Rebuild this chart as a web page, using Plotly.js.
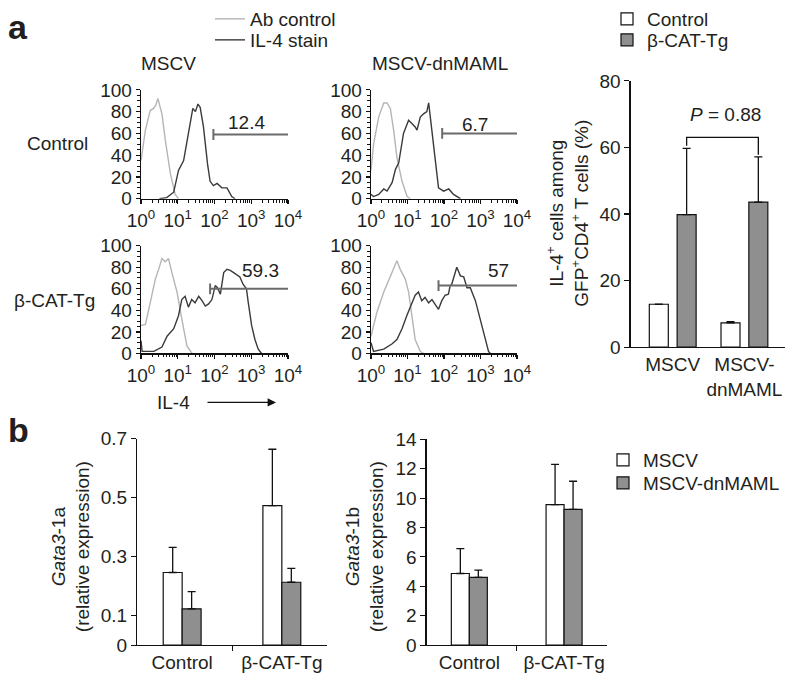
<!DOCTYPE html>
<html><head><meta charset="utf-8">
<script src="https://cdn.plot.ly/plotly-3.0.1.min.js"></script>
<style>html,body{margin:0;padding:0;background:#fff}#chart{width:800px;height:685px}</style>
</head><body><div id="chart"></div>
<script>
// ---------- DATA ----------
// Histograms: x = log10(IL-4 intensity), y = % of max
const h1GrayX = [0,0.05,0.12,0.25,0.34,0.4,0.46,0.57,0.66,0.8,0.93,1.02];
const h1GrayY = [35,48,63,81,83,86,92,78,54,23,4,0];
const h1BlackX = [0.5,0.7,0.89,1.02,1.16,1.3,1.41,1.48,1.55,1.61,1.7,1.81,1.88,1.97,2.07,2.2,2.34,2.47,2.56];
const h1BlackY = [0,1,6,26,35,60,83,80,87,84,66,32,16,12,14,10,10,2,0];
const h2GrayX = [0,0.07,0.21,0.35,0.44,0.53,0.62,0.71,0.85,0.99,1.08];
const h2GrayY = [26,50,75,88,88,83,63,38,16,2,0];
const h2BlackX = [0,0.07,0.21,0.35,0.44,0.58,0.67,0.76,0.89,1.03,1.12,1.21,1.26,1.35,1.44,1.53,1.58,1.67,1.76,1.85,1.99,2.13,2.26,2.45];
const h2BlackY = [4,2,4,9,7,15,27,33,60,72,69,66,63,75,78,80,88,63,35,10,7,9,4,0];
const h3GrayX = [0,0.12,0.25,0.39,0.48,0.57,0.66,0.75,0.84,0.98,1.11,1.25,1.39];
const h3GrayY = [26,27,47,69,78,88,85,88,75,57,32,7,0];
const h3BlackX = [0,0.03,0.1,0.35,0.57,0.71,0.89,1.02,1.11,1.2,1.29,1.38,1.47,1.57,1.66,1.75,1.84,1.93,2.02,2.08,2.16,2.25,2.34,2.43,2.56,2.69,2.78,2.87,2.92,3.01,3.1,3.19,3.28];
const h3BlackY = [12,2,2,2,6,16,23,35,50,53,43,50,47,53,49,44,46,50,63,61,55,75,78,77,74,71,64,60,47,26,13,4,0];
const h4GrayX = [0,0.16,0.35,0.53,0.71,0.8,0.94,1.03,1.12,1.21,1.35,1.44];
const h4GrayY = [16,38,57,72,86,78,69,57,35,13,2,0];
const h4BlackX = [0,0.07,0.35,0.58,0.71,0.85,0.98,1.12,1.21,1.3,1.39,1.48,1.58,1.67,1.76,1.85,1.94,2.03,2.12,2.17,2.21,2.31,2.35,2.45,2.54,2.63,2.72,2.86,2.99,3.13,3.22,3.27];
const h4BlackY = [10,2,4,9,13,23,35,47,54,57,49,52,47,50,46,41,49,54,55,63,64,75,80,72,71,61,61,49,32,13,2,0];
// gates: start (log10), level (%), label, label position (log10, %)
const gateStart = [1.97,1.95,1.88,1.85];
const gateLevel = [59,60,60,63];
const gateLabels = ['12.4','6.7','59.3','57'];
const gateLabelX = [2.86,2.86,3.26,3.49];
const gateLabelY = [70,68,77,77];
const histTickVals = [1,10,100,1000,10000];
const histTickText = ['10<sup>0</sup>','10<sup>1</sup>','10<sup>2</sup>','10<sup>3</sup>','10<sup>4</sup>'];

// Top-right bars
const il4Categories = ['MSCV','MSCV-<br>dnMAML'];
const il4Control = [12.9, 7.3];
const il4ControlErr = [0, 0.4];
const il4BetaCat = [39.8, 43.6];
const il4BetaCatErr = [19.9, 13.6];
const pText = '<i>P</i> = 0.88';

// Bottom bars
const gataCategories = ['Control','β-CAT-Tg'];
const gata1aMSCV = [0.246, 0.473];
const gata1aMSCVErr = [0.085, 0.191];
const gata1aDn = [0.123, 0.213];
const gata1aDnErr = [0.058, 0.047];
const gata1bMSCV = [4.87, 9.56];
const gata1bMSCVErr = [1.70, 2.74];
const gata1bDn = [4.60, 9.24];
const gata1bDnErr = [0.50, 1.91];

// ---------- HELPERS ----------
const W = 800, H = 685;
const px = x => x / W;
const py = y => 1 - y / H;
const FONT = 'Liberation Sans, Arial, Helvetica, sans-serif';
const TXT = '#231f20';
const FS = 19;
const GRAYLINE = '#b5b5b5', DARKLINE = '#3a3a3a', GATE = '#6b6b6b', BARGRAY = '#8f8f8f';
const pow10 = a => a.map(v => Math.pow(10, v));

const traces = [];
const hists = [
  [h1GrayX,h1GrayY,h1BlackX,h1BlackY],
  [h2GrayX,h2GrayY,h2BlackX,h2BlackY],
  [h3GrayX,h3GrayY,h3BlackX,h3BlackY],
  [h4GrayX,h4GrayY,h4BlackX,h4BlackY]
];
hists.forEach((h, i) => {
  const xa = i === 0 ? 'x' : 'x' + (i + 1), ya = i === 0 ? 'y' : 'y' + (i + 1);
  traces.push({type:'scatter', mode:'lines', x: pow10(h[0]), y: h[1], xaxis: xa, yaxis: ya,
    line:{color:GRAYLINE, width:1.4}, name:'Ab control', showlegend: i === 0, legend:'legend', hoverinfo:'skip'});
  traces.push({type:'scatter', mode:'lines', x: pow10(h[2]), y: h[3], xaxis: xa, yaxis: ya,
    line:{color:DARKLINE, width:1.4}, name:'IL-4 stain', showlegend: i === 0, legend:'legend4', hoverinfo:'skip'});
  const g = Math.pow(10, gateStart[i]);
  traces.push({type:'scatter', mode:'lines', xaxis: xa, yaxis: ya, showlegend:false, hoverinfo:'skip',
    x:[g, g, null, g, 10000], y:[gateLevel[i]-5, gateLevel[i]+5, null, gateLevel[i], gateLevel[i]],
    line:{color:GATE, width:2}});
});

const errStyle = (arr) => ({type:'data', array: arr, arrayminus: arr.map(() => 0), symmetric:false,
  color:'#111', thickness:1.3, width:4});
const barLine = {color:'#111', width:1.2};

// top-right
traces.push({type:'bar', x: il4Categories, y: il4Control, xaxis:'x5', yaxis:'y5', name:'Control', legend:'legend2',
  marker:{color:'#ffffff', line:barLine}, width:0.265, offset:-0.3265, error_y: errStyle(il4ControlErr), hoverinfo:'skip'});
traces.push({type:'bar', x: il4Categories, y: il4BetaCat, xaxis:'x5', yaxis:'y5', name:'β-CAT-Tg', legend:'legend5',
  marker:{color:BARGRAY, line:barLine}, width:0.265, offset:0.0615, error_y: errStyle(il4BetaCatErr), hoverinfo:'skip'});

// bottom
traces.push({type:'bar', x: gataCategories, y: gata1aMSCV, xaxis:'x6', yaxis:'y6', name:'MSCV', legend:'legend3',
  marker:{color:'#ffffff', line:barLine}, width:0.19, offset:-0.19, error_y: errStyle(gata1aMSCVErr), hoverinfo:'skip'});
traces.push({type:'bar', x: gataCategories, y: gata1aDn, xaxis:'x6', yaxis:'y6', name:'MSCV-dnMAML', legend:'legend6',
  marker:{color:BARGRAY, line:barLine}, width:0.19, offset:0, error_y: errStyle(gata1aDnErr), hoverinfo:'skip'});
traces.push({type:'bar', x: gataCategories, y: gata1bMSCV, xaxis:'x7', yaxis:'y7', name:'MSCV', showlegend:false,
  marker:{color:'#ffffff', line:barLine}, width:0.19, offset:-0.19, error_y: errStyle(gata1bMSCVErr), hoverinfo:'skip'});
traces.push({type:'bar', x: gataCategories, y: gata1bDn, xaxis:'x7', yaxis:'y7', name:'MSCV-dnMAML', showlegend:false,
  marker:{color:BARGRAY, line:barLine}, width:0.19, offset:0, error_y: errStyle(gata1bDnErr), hoverinfo:'skip'});

// ---------- AXES ----------
const histX = (dom, anchor) => ({type:'log', domain: dom, anchor, range:[0,4], showgrid:false, zeroline:false,
  showline:true, linecolor:'#111', linewidth:1.3, ticks:'outside', ticklen:4, tickwidth:1.2, tickcolor:'#111',
  tickvals: histTickVals, ticktext: histTickText, tickfont:{size:FS, color:TXT},
  minor:{ticks:'outside', ticklen:2.5, tickcolor:'#111', tickwidth:1, dtick:'D1', showgrid:false}});
const histY = (dom, anchor) => ({domain: dom, anchor, range:[0,100], showgrid:false, zeroline:false,
  showline:true, linecolor:'#111', linewidth:1.3, ticks:'outside', ticklen:4, tickwidth:1.2, tickcolor:'#111',
  tickvals:[0,20,40,60,80,100], tickfont:{size:FS, color:TXT},
  minor:{ticks:'outside', ticklen:2.5, tickcolor:'#111', tickwidth:1, dtick:5, showgrid:false}});

const hx1 = [px(141), px(288)], hx2 = [px(371), px(517)];
const hyTop = [py(198), py(89)], hyBot = [py(353), py(245)];
const leg = (x, y) => ({x: px(x), y: py(y), xanchor:'left', yanchor:'middle', bgcolor:'rgba(0,0,0,0)',
  borderwidth:0, font:{size:FS, color:TXT}, itemwidth:30});

const layout = {
  width: W, height: H, margin:{l:0,r:0,t:0,b:0}, paper_bgcolor:'#fff', plot_bgcolor:'rgba(0,0,0,0)',
  font:{family: FONT, color: TXT, size:FS}, barmode:'overlay',
  xaxis: histX(hx1,'y'), yaxis: histY(hyTop,'x'),
  xaxis2: histX(hx2,'y2'), yaxis2: histY(hyTop,'x2'),
  xaxis3: histX(hx1,'y3'), yaxis3: histY(hyBot,'x3'),
  xaxis4: histX(hx2,'y4'), yaxis4: histY(hyBot,'x4'),
  xaxis5: {domain:[px(630.7), px(785)], anchor:'y5', type:'category', range:[-0.586,1.566], showline:true,
    linecolor:'#111', linewidth:1.3, ticks:'', showgrid:false, zeroline:false, tickfont:{size:FS, color:TXT}},
  yaxis5: {domain:[py(346.7), py(80)], anchor:'x5', range:[0,80], showline:true, linecolor:'#111', linewidth:1.3,
    ticks:'outside', ticklen:5, tickwidth:1.2, tickcolor:'#111', tickvals:[0,20,40,60,80], showgrid:false, zeroline:false,
    tickfont:{size:FS, color:TXT}},
  xaxis6: {domain:[px(137.3), px(326.7)], anchor:'y6', type:'category', range:[-0.45,1.45], showline:true,
    linecolor:'#111', linewidth:1.3, ticks:'outside', tickson:'boundaries', ticklen:5, tickcolor:'#111',
    showgrid:false, zeroline:false, tickfont:{size:FS, color:TXT}},
  yaxis6: {domain:[py(645), py(438.3)], anchor:'x6', range:[0,0.7], showline:true, linecolor:'#111', linewidth:1.3,
    ticks:'outside', ticklen:5, tickcolor:'#111', tickvals:[0,0.1,0.3,0.5,0.7], showgrid:false, zeroline:false,
    tickfont:{size:FS, color:TXT}},
  xaxis7: {domain:[px(426.7), px(606.7)], anchor:'y7', type:'category', range:[-0.45,1.45], showline:true,
    linecolor:'#111', linewidth:1.3, ticks:'outside', tickson:'boundaries', ticklen:5, tickcolor:'#111',
    showgrid:false, zeroline:false, tickfont:{size:FS, color:TXT}},
  yaxis7: {domain:[py(645), py(439)], anchor:'x7', range:[0,14], showline:true, linecolor:'#111', linewidth:1.3,
    ticks:'outside', ticklen:5, tickcolor:'#111', tickvals:[0,2,4,6,8,10,12,14], showgrid:false, zeroline:false,
    tickfont:{size:FS, color:TXT}},
  legend: leg(210, 18), legend4: leg(210, 40),
  legend2: leg(607, 18), legend5: leg(607, 40),
  legend3: leg(603, 460), legend6: leg(603, 483),
  shapes: [
    {type:'path', xref:'x5', yref:'y5', path:'M 0.194 60.5 L 0.194 63 L 1.194 63 L 1.194 57.8', line:{color:'#111', width:1.3}}
  ],
  annotations: []
};

const ann = layout.annotations;
const A = (text, x, y, opts={}) => ann.push(Object.assign({text, x: px(x), y: py(y), xref:'paper', yref:'paper',
  xanchor:'center', yanchor:'middle', showarrow:false, font:{size:FS, color:TXT}}, opts));
A('<b>a</b>', 18, 26, {font:{size:34, color:TXT}});
A('<b>b</b>', 18, 430, {font:{size:34, color:TXT}});
A('MSCV', 168, 63);
A('MSCV-dnMAML', 440, 63);
A('Control', 58, 143);
A('β-CAT-Tg', 54, 300);
A('IL-4', 173, 402);
ann.push({text:'', xref:'paper', yref:'paper', x: px(276), y: py(402), ax:-70, ay:0, axref:'pixel', ayref:'pixel',
  showarrow:true, arrowhead:2, arrowsize:1.2, arrowwidth:1.4, arrowcolor:'#111'});
A('IL-4<sup>+</sup> cells among<br>GFP<sup>+</sup>CD4<sup>+</sup> T cells (%)', 568, 213, {textangle:-90});
A('<i>Gata3</i>-1a<br>(relative expression)', 71, 547, {textangle:-90});
A('<i>Gata3</i>-1b<br>(relative expression)', 365, 547, {textangle:-90});
// gate labels
gateLabels.forEach((t, i) => {
  ann.push({text:t, xref: i === 0 ? 'x' : 'x' + (i + 1), yref: i === 0 ? 'y' : 'y' + (i + 1),
    x: gateLabelX[i], y: gateLabelY[i], xanchor:'center', yanchor:'middle', showarrow:false, font:{size:FS, color:TXT}});
});
ann.push({text:pText, xref:'x5', yref:'y5', x:0.73, y:70, xanchor:'center', yanchor:'middle', showarrow:false,
  font:{size:FS, color:TXT}});

Plotly.newPlot('chart', traces, layout, {staticPlot:true});
</script>
</body></html>
